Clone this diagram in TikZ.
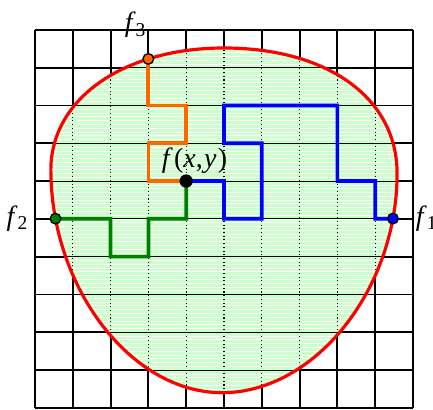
\documentclass[tikz,border=0pt]{standalone}
\usepackage{fontspec}
\setmainfont{Liberation Serif}
\usepackage{tikz}
\usetikzlibrary{arrows.meta,positioning}
\definecolor{fillgreen}{RGB}{204,255,204}
\definecolor{pathorange}{RGB}{255,102,0}
\definecolor{pathgreen}{RGB}{0,128,0}
\tikzset{
  blob/.style={insert path={(5,9.52) .. controls (2.34,9.52) and (0.42,8.17) .. coordinate[pos=0.275] (p3) (0.42,6.3)
    .. controls (0.42,3.17) and (2.55,0.4) .. coordinate[pos=0.141] (p2) (4.95,0.4)
    .. controls (7.4,0.4) and (9.58,3.13) .. coordinate[pos=0.868] (p1) (9.58,6.2)
    .. controls (9.58,8.19) and (7.75,9.52) .. (5,9.52) -- cycle}},
  outergrid/.style={line width=1.4pt},
  innerhline/.style={line width=0.6pt},
  innervline/.style={line width=0.8pt, dotted},
  walk/.style={line width=2.8pt},
  endpt/.style={circle, draw=black, line width=1pt, inner sep=0pt, minimum size=8pt},
  lbl/.style={inner sep=0pt, font=\rmfamily\fontsize{21}{24}\selectfont}
}
\begin{document}
\begin{tikzpicture}[scale=1, >=Latex]
\useasboundingbox (-0.926,-0.053) rectangle (10.53,10.79);
\draw[outergrid] (0,0) grid (10,10);
\fill[fillgreen][blob];
\begin{scope}
\clip[blob];
\foreach \i in {0,...,100} \draw[white, line width=0.45pt] (0,\i/10) -- (10,\i/10);
\foreach \i in {1,...,9} \draw[innerhline] (0,\i) -- (10,\i);
\foreach \i in {1,...,9} \draw[innervline] (\i,0) -- (\i,10);
\end{scope}
\draw[red, line width=2.4pt][blob];
\coordinate (fxy) at (4,6);
\draw[walk, pathorange] (p3) -- (p3 |- 0,8) -- (4,8) -- (4,7) -- (3,7) -- (3,6) -- (fxy);
\draw[walk, blue] (fxy) -- (5,6) -- (5,5) -- (6,5) -- (6,7) -- (5,7) -- (5,8) -- (8,8) -- (8,6) -- (9,6) -- (9,5) -- (p1);
\draw[walk, pathgreen] (p2) -- (2,5) -- (2,4) -- (3,4) -- (3,5) -- (4,5) -- (fxy);
\node[endpt, fill=blue] (d1) at (p1) {};
\node[endpt, fill=pathgreen] (d2) at (p2) {};
\node[endpt, fill=pathorange] (d3) at (p3) {};
\node[circle, fill=black, inner sep=0pt, minimum size=10pt] (dxy) at (fxy) {};
\node[lbl, above=0.18cm of fxy, xshift=0.22cm] (lxy) {\textit{f}\kern1pt(\textit{x},\kern1pt\textit{y}\kern1pt)};
\node[lbl, right=0.6cm of p1] (l1) {\textit{f}\textsubscript{1}};
\node[lbl, left=0.72cm of p2] (l2) {\textit{f}\textsubscript{2}};
\node[lbl, above left=0.55cm and 0.05cm of p3] (l3) {\textit{f}\textsubscript{3}};
\end{tikzpicture}
\end{document}
